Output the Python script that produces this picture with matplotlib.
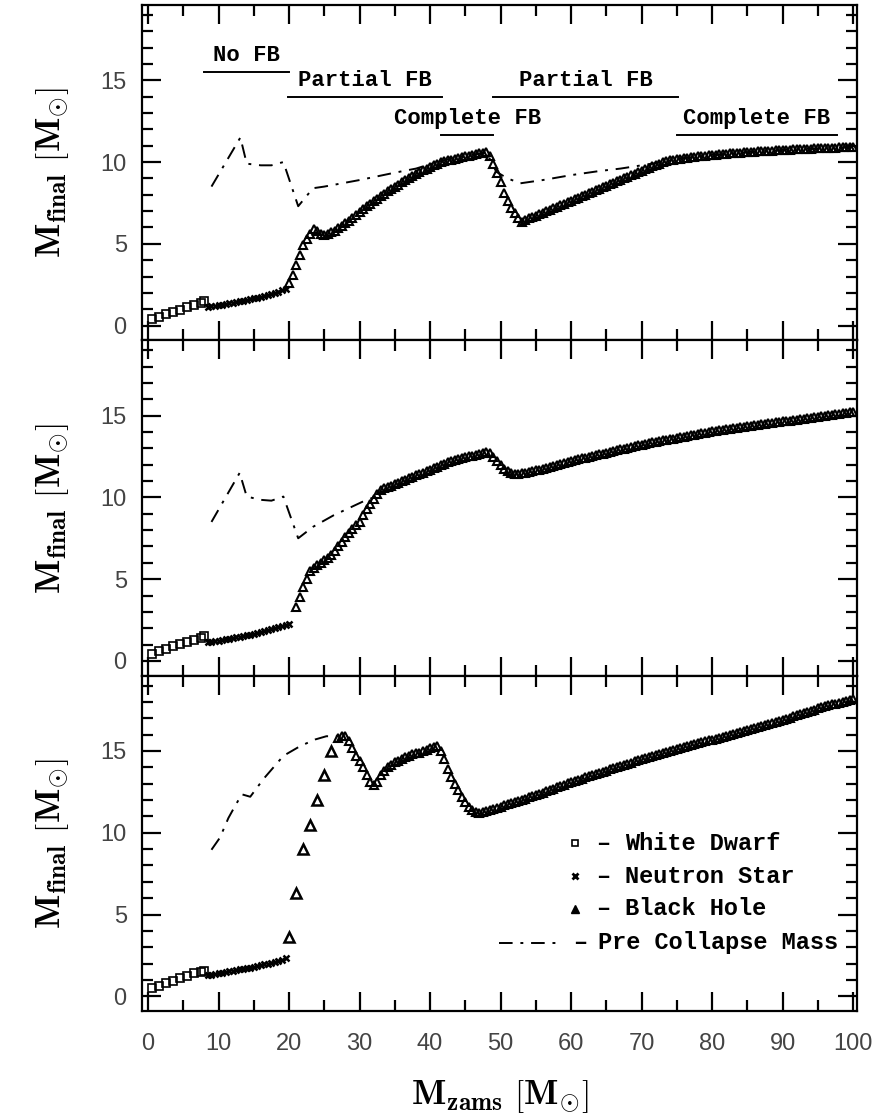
import numpy as np
import matplotlib.pyplot as plt
from matplotlib.ticker import MultipleLocator

plt.rcParams['mathtext.fontset'] = 'cm'

# ---- data (x = M_zams, y = M_final) ----
wd_x = [0.5, 1.5, 2.5, 3.5, 4.5, 5.5, 6.5, 7.5, 8.0]
wd_y = [
    [0.40, 0.55, 0.70, 0.85, 0.98, 1.12, 1.25, 1.38, 1.50],
    [0.45, 0.60, 0.75, 0.90, 1.03, 1.17, 1.30, 1.43, 1.55],
    [0.50, 0.65, 0.80, 0.95, 1.10, 1.25, 1.40, 1.50, 1.55],
]

ns_end = [19.5, 20.0, 19.5]
ns_y = [
    [1.15, 1.18, 1.22, 1.25, 1.28, 1.32, 1.36, 1.40, 1.44, 1.48, 1.52, 1.56,
     1.61, 1.66, 1.71, 1.76, 1.81, 1.87, 1.93, 2.00, 2.07, 2.15, 2.25],
    [1.15, 1.18, 1.22, 1.25, 1.28, 1.32, 1.36, 1.40, 1.44, 1.48, 1.52, 1.56,
     1.61, 1.66, 1.71, 1.76, 1.81, 1.87, 1.93, 1.99, 2.05, 2.12, 2.19, 2.27],
    [1.30, 1.33, 1.37, 1.40, 1.44, 1.48, 1.52, 1.56, 1.60, 1.64, 1.68, 1.72,
     1.76, 1.80, 1.85, 1.90, 1.95, 2.00, 2.05, 2.10, 2.17, 2.24, 2.32],
]

# sparse black holes (bottom panel only)
bh_sparse_x = [[], [], [20, 21, 22, 23, 24, 25, 26]]
bh_sparse_y = [[], [], [3.6, 6.3, 9.0, 10.5, 12.0, 13.5, 15.0]]

bh_start = [20.0, 21.0, 27.0]
bh_y = [
    [2.6, 3.1, 3.7, 4.3, 4.9, 5.3, 5.6, 5.9, 5.8, 5.6,
     5.55, 5.6, 5.7, 5.8, 5.95, 6.1, 6.25, 6.4, 6.6, 6.75,
     6.95, 7.15, 7.3, 7.45, 7.6, 7.75, 7.9, 8.05, 8.2, 8.35,
     8.5, 8.62, 8.75, 8.88, 9.0, 9.12, 9.25, 9.38, 9.5, 9.6,
     9.7, 9.8, 9.9, 9.98, 10.05, 10.1, 10.15, 10.2, 10.25, 10.3,
     10.35, 10.4, 10.45, 10.5, 10.53, 10.57, 10.6, 10.4, 9.9, 9.3,
     8.8, 8.1, 7.6, 7.2, 6.9, 6.55, 6.35, 6.45, 6.55, 6.63,
     6.72, 6.81, 6.9, 7.0, 7.08, 7.17, 7.26, 7.35, 7.45, 7.54,
     7.63, 7.72, 7.81, 7.9, 8.0, 8.09, 8.18, 8.27, 8.36, 8.45,
     8.55, 8.64, 8.73, 8.82, 8.91, 9.0, 9.1, 9.19, 9.28, 9.37,
     9.46, 9.55, 9.64, 9.73, 9.82, 9.9, 9.98, 10.04, 10.1, 10.14,
     10.18, 10.2, 10.22, 10.25, 10.28, 10.31, 10.34, 10.37, 10.4, 10.42,
     10.44, 10.46, 10.48, 10.5, 10.52, 10.54, 10.55, 10.57, 10.58, 10.6,
     10.61, 10.63, 10.64, 10.65, 10.67, 10.68, 10.69, 10.7, 10.72, 10.73,
     10.74, 10.75, 10.76, 10.77, 10.78, 10.79, 10.8, 10.81, 10.82, 10.83,
     10.84, 10.85, 10.86, 10.87, 10.88, 10.88, 10.89, 10.9, 10.91, 10.92,
     10.93],
    [3.3, 3.9, 4.5, 5.0, 5.5, 5.7, 5.85, 6.0,
     6.15, 6.3, 6.45, 6.7, 7.0, 7.3, 7.55, 7.8, 8.05, 8.3,
     8.5, 8.9, 9.3, 9.6, 9.9, 10.2, 10.45, 10.55, 10.65, 10.72,
     10.8, 10.89, 10.98, 11.07, 11.16, 11.25, 11.34, 11.43, 11.52, 11.61,
     11.7, 11.79, 11.88, 11.97, 12.06, 12.15, 12.22, 12.28, 12.34, 12.4,
     12.45, 12.5, 12.55, 12.6, 12.65, 12.7, 12.75, 12.7, 12.45, 12.2,
     11.95, 11.75, 11.6, 11.5, 11.45, 11.45, 11.48, 11.52, 11.56, 11.6,
     11.65, 11.7, 11.75, 11.8, 11.86, 11.92, 11.98, 12.04, 12.1, 12.16,
     12.22, 12.28, 12.33, 12.38, 12.43, 12.48, 12.53, 12.58, 12.63, 12.68,
     12.73, 12.78, 12.83, 12.88, 12.93, 12.98, 13.03, 13.08, 13.13, 13.18,
     13.23, 13.28, 13.32, 13.36, 13.4, 13.44, 13.48, 13.52, 13.56, 13.6,
     13.64, 13.68, 13.72, 13.76, 13.8, 13.84, 13.88, 13.92, 13.96, 14.0,
     14.04, 14.07, 14.1, 14.13, 14.16, 14.19, 14.22, 14.25, 14.28, 14.31,
     14.34, 14.37, 14.4, 14.43, 14.46, 14.49, 14.52, 14.55, 14.58, 14.61,
     14.64, 14.67, 14.7, 14.73, 14.76, 14.79, 14.82, 14.85, 14.88, 14.91,
     14.94, 14.97, 15.0, 15.03, 15.06, 15.09, 15.12, 15.15, 15.18, 15.21,
     15.25],
    [15.8, 15.9, 15.9, 15.6, 15.2, 14.7,
     14.4, 14.0, 13.5, 13.1, 12.9, 13.1, 13.5, 13.8, 14.0, 14.15,
     14.3, 14.4, 14.5, 14.6, 14.7, 14.8, 14.85, 14.9, 15.0, 15.05,
     15.15, 15.25, 15.3, 15.0, 14.5, 13.9, 13.4, 13.0, 12.6, 12.2,
     11.9, 11.6, 11.4, 11.25, 11.2, 11.25, 11.3, 11.37, 11.44, 11.52,
     11.6, 11.67, 11.74, 11.81, 11.88, 11.95, 12.02, 12.09, 12.16, 12.23,
     12.3, 12.38, 12.46, 12.54, 12.62, 12.7, 12.78, 12.86, 12.94, 13.02,
     13.1, 13.17, 13.24, 13.31, 13.38, 13.45, 13.52, 13.59, 13.66, 13.73,
     13.8, 13.87, 13.94, 14.01, 14.08, 14.15, 14.22, 14.29, 14.36, 14.43,
     14.5, 14.56, 14.62, 14.68, 14.74, 14.8, 14.86, 14.92, 14.98, 15.04,
     15.1, 15.16, 15.22, 15.28, 15.34, 15.4, 15.46, 15.52, 15.58, 15.64,
     15.7, 15.76, 15.82, 15.88, 15.94, 16.0, 16.06, 16.12, 16.18, 16.24,
     16.3, 16.36, 16.42, 16.48, 16.54, 16.6, 16.66, 16.72, 16.78, 16.84,
     16.9, 16.97, 17.04, 17.11, 17.18, 17.25, 17.32, 17.39, 17.46, 17.53,
     17.6, 17.66, 17.72, 17.78, 17.84, 17.9, 17.96, 18.02, 18.08, 18.14,
     18.2],
]

pre_x = [
    [9, 13.1, 14, 16, 17.5, 19.2, 21.3, 23.4, 25, 30, 35, 38, 41, 44, 48,
     49.4, 51, 52.8, 56, 60, 64, 67, 70, 73, 75, 80, 85, 90, 95, 100],
    [9, 13, 14, 16, 17.5, 19.2, 21.3, 23.4, 26.3, 30.5, 32],
    [9, 10.2, 11.4, 12.3, 13.3, 14.5, 16.4, 19.2, 21.6, 23.7, 25.3, 27],
]
pre_y = [
    [8.5, 11.5, 9.9, 9.8, 9.8, 10.0, 7.3, 8.4, 8.5, 8.9, 9.35, 9.6, 10.0, 10.3, 10.6,
     9.4, 9.0, 8.7, 8.9, 9.2, 9.45, 9.6, 9.8, 10.0, 10.2, 10.44, 10.61, 10.74, 10.84, 10.93],
    [8.5, 11.5, 10.05, 9.85, 9.8, 10.05, 7.5, 8.2, 8.9, 9.75, 10.0],
    [8.96, 9.7, 10.9, 11.6, 12.35, 12.2, 13.3, 14.7, 15.3, 15.7, 15.9, 15.9],
]

# fallback regimes in the top panel: (label, x from, x to, underline y)
fb_regions = [
    ("No FB", 7.9, 20.0, 15.5),
    ("Partial FB", 19.9, 41.7, 14.0),
    ("Complete FB", 41.6, 49.0, 11.65),
    ("Partial FB", 49.0, 75.2, 14.0),
    ("Complete FB", 75.0, 97.7, 11.65),
]

legend_labels = ["White Dwarf", "Neutron Star", "Black Hole", "Pre Collapse Mass"]

tick_font = dict(family="Liberation Sans", size=17, color="#444444")
mono = dict(family="Liberation Mono", weight="bold")
pre_ls = (0, (7, 4, 1.5, 4))

fig = plt.figure(figsize=(8.74, 11.13), dpi=100)
left, width = 0.1625, 0.818
bottom, top = 0.0916, 0.9955
h = (top - bottom) / 3
axes = [fig.add_axes([left, bottom + (2 - i) * h, width, h]) for i in range(3)]

for i, ax in enumerate(axes):
    ax.plot(wd_x, wd_y[i], ls="none", marker="s", ms=5.5, mfc="none", mec="k", mew=1.2)
    nsx = np.arange(8.5, ns_end[i] + 0.01, 0.5)
    ax.plot(nsx, ns_y[i], ls="none", marker="x", ms=4.5, mec="k", mew=1.8)
    if bh_sparse_x[i]:
        ax.plot(bh_sparse_x[i], bh_sparse_y[i], ls="none", marker="^", ms=6.5,
                mfc="none", mec="k", mew=1.8)
    bhx = np.arange(bh_start[i], 100.01, 0.5)
    ax.plot(bhx, bh_y[i], ls="none", marker="^", ms=5.5, mfc="none", mec="k", mew=1.5)
    ax.plot(pre_x[i], pre_y[i], color="k", lw=1.4, ls=pre_ls)

    ax.set_xlim(-0.85, 100.55)
    ax.set_ylim(-0.9, 19.6)
    ax.xaxis.set_major_locator(MultipleLocator(10))
    ax.xaxis.set_minor_locator(MultipleLocator(5))
    ax.yaxis.set_major_locator(MultipleLocator(5))
    ax.yaxis.set_minor_locator(MultipleLocator(1))
    ax.tick_params(which="both", direction="in", top=True, right=True, width=1.6)
    ax.tick_params(which="major", length=14)
    ax.tick_params(which="minor", length=8)
    ax.tick_params(axis="y", pad=11)
    ax.tick_params(axis="x", pad=16)
    for sp in ax.spines.values():
        sp.set_linewidth(1.6)
    for lab in ax.get_yticklabels():
        lab.set(**tick_font)
    if i < 2:
        ax.set_xticklabels([])
    else:
        for lab in ax.get_xticklabels():
            lab.set(**tick_font)
    ax.set_ylabel(r"$\mathbf{M}_{\mathbf{final}}\ \left[\mathbf{M}_{\odot}\right]$", fontsize=26)
    ax.yaxis.set_label_coords(-0.1, 0.5)

# regime labels in the top panel
ax = axes[0]
for label, x0, x1, yl in fb_regions:
    ax.plot([x0, x1], [yl, yl], color="k", lw=1.4)
    ax.text((x0 + x1) / 2, yl + 0.35, label, ha="center", va="bottom", fontsize=16, **mono)

# hand-made legend in the bottom panel
ax = axes[2]
row_y = [0.5, 0.402, 0.305, 0.204]
for lab, mk, yy in zip(legend_labels[:3], ["s", "x", "^"], row_y[:3]):
    if mk == "^":
        ax.plot([0.606], [yy], transform=ax.transAxes, ls="none", marker=mk, ms=6, color="k")
    elif mk == "x":
        ax.plot([0.606], [yy], transform=ax.transAxes, ls="none", marker=mk, ms=5, mec="k", mew=2)
    else:
        ax.plot([0.606], [yy], transform=ax.transAxes, ls="none", marker=mk, ms=5,
                mfc="none", mec="k", mew=1.2)
    ax.text(0.645, yy, "\u2013", transform=ax.transAxes, ha="center", va="center", fontsize=17, **mono)
    ax.text(0.676, yy, lab, transform=ax.transAxes, ha="left", va="center", fontsize=17, **mono)
ax.plot([0.5, 0.585], [row_y[3], row_y[3]], transform=ax.transAxes, color="k", lw=1.4, ls=pre_ls)
ax.text(0.613, row_y[3], "\u2013", transform=ax.transAxes, ha="center", va="center", fontsize=17, **mono)
ax.text(0.638, row_y[3], legend_labels[3], transform=ax.transAxes, ha="left", va="center",
        fontsize=17, **mono)

ax.set_xlabel(r"$\mathbf{M}_{\mathbf{zams}}\ \left[\mathbf{M}_{\odot}\right]$", fontsize=26)
ax.xaxis.set_label_coords(0.5, -0.2)

fig.savefig("out.png", dpi=100)
